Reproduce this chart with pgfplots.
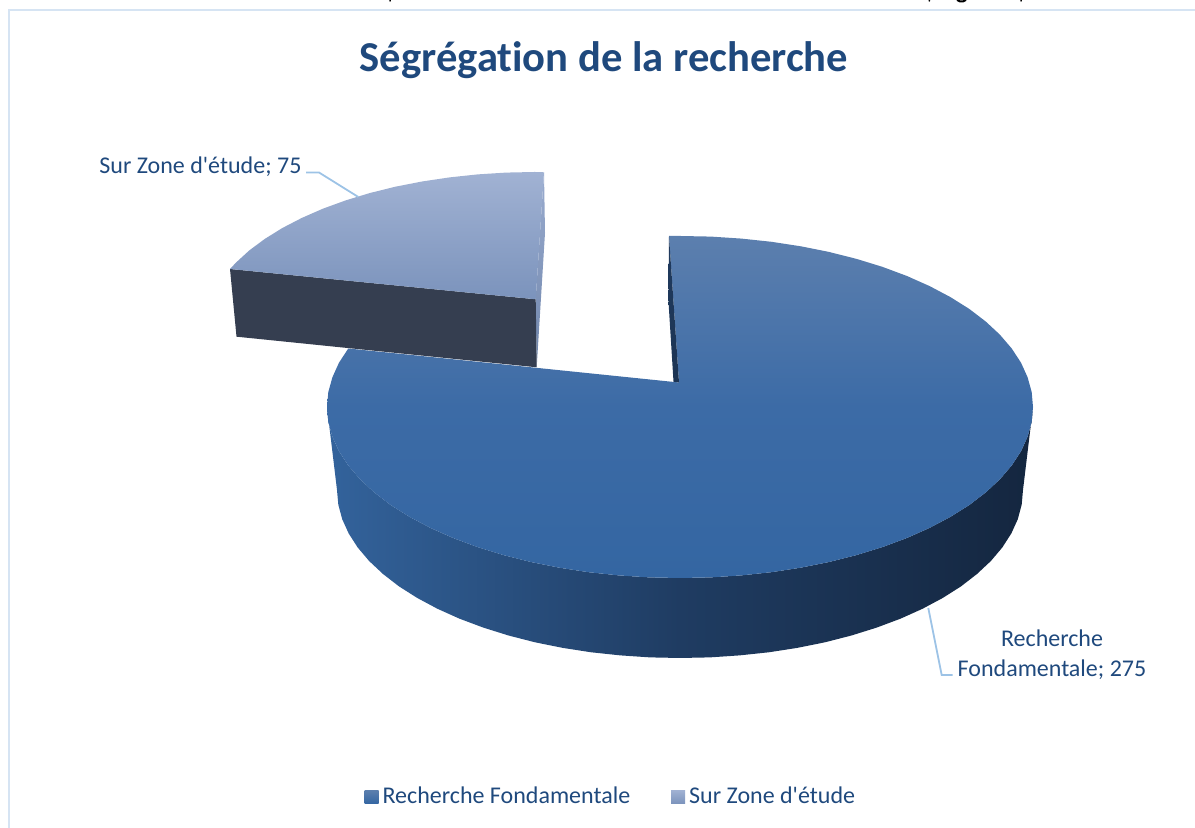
\documentclass[border=0pt]{standalone}
\usepackage{fontspec}
\setmainfont{Carlito}
\newfontfamily\cf{Carlito}[Ligatures=NoCommon]
\usepackage{pgfplots}
\pgfplotsset{compat=1.18}
\definecolor{txt}{HTML}{1F497D}
\definecolor{framec}{HTML}{D6E4F3}
\definecolor{leader}{HTML}{9DC3E6}
\definecolor{mainA}{HTML}{5C7FAE}
\definecolor{mainB}{HTML}{3C6BA6}
\definecolor{mainC}{HTML}{3466A2}
\definecolor{sideA}{HTML}{33639C}
\definecolor{sideB}{HTML}{1F3C62}
\definecolor{sideC}{HTML}{14263F}
\definecolor{zoneA}{HTML}{A1B2D3}
\definecolor{zoneB}{HTML}{7B93BC}
\definecolor{zoneSide}{HTML}{353E50}
\definecolor{zoneEdgeA}{HTML}{9AACCF}
\definecolor{zoneEdgeB}{HTML}{6F85AB}

\begin{document}
\begin{tikzpicture}
\useasboundingbox (0,0) rectangle (597.5pt,414pt);
\begin{axis}[
    at={(0,0)}, anchor=south west,
    scale only axis,
    width=597.5pt, height=414pt,
    xmin=0, xmax=1195,
    % y values below are pixel rows of the picture, counted from the top
    y coord trafo/.code={\pgfmathparse{828-#1}},
    ymin=828, ymax=0,
    hide axis,
    clip=false,
    legend cell align=left,
    legend columns=2,
    legend style={draw=none, fill=none, at={(0.512,0.0375)}, anchor=center,
        font=\fontsize{12pt}{14pt}\cf\color{txt},
        /tikz/every even column/.append style={column sep=18.5pt},
        inner sep=0pt},
]
% frame of the chart
\addplot[framec, line width=1pt, forget plot] coordinates {(9,828) (9,10) (1195,10)};

% Recherche Fondamentale (275): side wall
\addplot[draw=none, left color=sideA, right color=sideC, middle color=sideB, forget plot] coordinates {
(1033,407) (1031.7,421.9) (1027.6,436.7) (1021,451.3) (1011.7,465.5) (999.9,479.3) (985.7,492.5)
(969.2,505.1) (950.4,516.9) (929.6,527.9) (906.9,538) (882.5,547.1) (856.5,555.1) (829.2,562)
(800.7,567.7) (771.4,572.2) (741.3,575.4) (710.8,577.4) (680,578) (649.2,577.4) (618.7,575.4)
(588.6,572.2) (559.3,567.7) (530.8,562) (503.5,555.1) (477.5,547.1) (453.1,538) (430.4,527.9)
(409.6,516.9) (390.8,505.1) (374.3,492.5) (360.1,479.3) (348.3,465.5) (339,451.3) (332.4,436.7)
(328.3,421.9) (327,407)
(337,490) (338.3,504.6) (342.2,519.2) (348.7,533.5) (357.7,547.5) (369.1,561) (383,574) (399,586.4)
(417.3,598) (437.5,608.8) (459.5,618.7) (483.3,627.6) (508.5,635.5) (535,642.3) (562.7,647.9)
(591.2,652.3) (620.4,655.4) (650.1,657.4) (680,658) (709.9,657.4) (739.6,655.4) (768.8,652.3)
(797.3,647.9) (825,642.3) (851.5,635.5) (876.7,627.6) (900.5,618.7) (922.5,608.8) (942.7,598)
(961,586.4) (977,574) (990.9,561) (1002.3,547.5) (1011.3,533.5) (1017.8,519.2) (1021.7,504.6) (1023,490)
};

% Recherche Fondamentale (275): top face
\addplot[draw=none, top color=mainA, bottom color=mainC, middle color=mainB, forget plot] coordinates {
(669,236) (680,236) (710.8,236.6) (741.3,238.6) (771.4,241.8) (800.7,246.3) (829.2,252) (856.5,258.9)
(882.5,266.9) (906.9,276) (929.6,286.1) (950.4,297.1) (969.2,308.9) (985.7,321.5) (999.9,334.7)
(1011.7,348.5) (1021,362.7) (1027.6,377.3) (1031.7,392.1) (1033,407) (1031.7,421.9) (1027.6,436.7)
(1021,451.3) (1011.7,465.5) (999.9,479.3) (985.7,492.5) (969.2,505.1) (950.4,516.9) (929.6,527.9)
(906.9,538) (882.5,547.1) (856.5,555.1) (829.2,562) (800.7,567.7) (771.4,572.2) (741.3,575.4)
(710.8,577.4) (680,578) (649.2,577.4) (618.7,575.4) (588.6,572.2) (559.3,567.7) (530.8,562)
(503.5,555.1) (477.5,547.1) (453.1,538) (430.4,527.9) (409.6,516.9) (390.8,505.1) (374.3,492.5)
(360.1,479.3) (348.3,465.5) (339,451.3) (332.4,436.7) (328.3,421.9) (327,407) (328.3,392.1)
(332.4,377.3) (339,362.7) (348.3,348.5) (679,382.5)
};
% inner cut of the big slice
\addplot[draw=none, top color=sideC!70!mainB, bottom color=sideC!80!mainB, forget plot] coordinates {
(669,236) (668.4,300) (673.5,381.7) (679,382.5)
};

% Sur Zone d'etude (75)
\addplot[draw=none, top color=zoneEdgeA, bottom color=zoneEdgeB, forget plot] coordinates {
(544,172.3) (545,233) (536.7,367) (535.7,299.3)
};
\addplot[draw=none, fill=zoneSide, forget plot] coordinates {
(230,269) (535.7,299.3) (536.7,367.3) (236.5,336.7)
};
\addplot[draw=none, top color=zoneA, bottom color=zoneB, forget plot] coordinates {
(544,172.3) (535,172) (506.2,172.6) (477.7,174.4) (449.6,177.4) (422.1,181.5) (395.5,186.7) (370,193)
(345.7,200.4) (322.9,208.7) (301.7,218) (282.2,228.1) (264.7,239) (249.2,250.5) (235.9,262.7)
(230,269) (535.7,299.3)
};

% leader lines
\addplot[leader, line width=0.9pt, forget plot] coordinates {(306,172.5) (319,172.5) (358.3,197)};
\addplot[leader, line width=0.9pt, forget plot] coordinates {(928.3,608) (941.7,675) (952.7,675)};

% ink of the cropped line above the chart
\addplot[black, line width=0.7pt, forget plot] coordinates {(390,0) (390.3,1.5)};
\addplot[black, line width=0.7pt, forget plot] coordinates {(929.5,0) (929.2,1.5)};
\addplot[black, line width=1pt, forget plot] coordinates {(957,0) (960,1.5) (963,1.5) (966,0)};
\addplot[black, line width=0.7pt, forget plot] coordinates {(1021,0) (1021.3,1.5)};

% legend
\addlegendimage{legend image code/.code={
    \path[draw=none, top color=mainA, bottom color=mainC] (0,-3.4pt) rectangle (7pt,3.4pt);}}
\addlegendentry{Recherche Fondamentale}
\addlegendimage{legend image code/.code={
    \path[draw=none, top color=zoneA, bottom color=zoneB] (0,-3.4pt) rectangle (7pt,3.4pt);}}
\addlegendentry{Sur Zone d'étude}

% title and data labels
\node[anchor=base, text=txt, font=\fontsize{21.3pt}{24pt}\cf\bfseries] at (axis cs:604,72) {Ségrégation de la recherche};
\node[anchor=base west, inner sep=0pt, text=txt, font=\fontsize{12pt}{14pt}\cf] at (axis cs:99,174) {Sur Zone d'étude; 75};
\node[anchor=base, inner sep=0pt, text=txt, font=\fontsize{12pt}{14pt}\cf] at (axis cs:1052,647) {Recherche};
\node[anchor=base, inner sep=0pt, text=txt, font=\fontsize{12pt}{14pt}\cf] at (axis cs:1052,677) {Fondamentale; 275};
\end{axis}
\end{tikzpicture}
\end{document}
